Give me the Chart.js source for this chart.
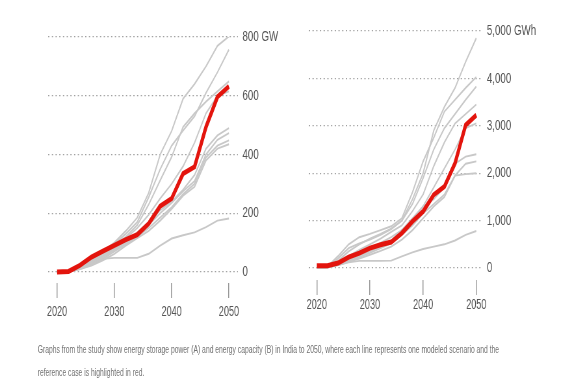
<!DOCTYPE html>
<html>
<head>
<meta charset="utf-8">
<script src="https://cdn.jsdelivr.net/npm/chart.js@4"></script>
<style>
  body { margin: 0; background: #fff; width: 564px; height: 386px; overflow: hidden; }
  /* the original figure is squeezed horizontally, so draw wide and squeeze */
  #page {
    position: relative; width: 868px; height: 386px;
    transform: scaleX(0.65); transform-origin: 0 0;
  }
  canvas { position: absolute; top: 0; }
  #chartA { left: 0; }
  #chartB { left: 434px; }
  #caption {
    position: absolute; left: 58px; top: 338px;
    font-family: "Liberation Sans", Arial, sans-serif;
    font-size: 10.4px; line-height: 23px; color: #707070; white-space: nowrap;
  }
</style>
</head>
<body>
<div id="page">
  <canvas id="chartA" width="434" height="325"></canvas>
  <canvas id="chartB" width="434" height="325"></canvas>
  <div id="caption">Graphs from the study show energy storage power (A) and energy capacity (B) in India to 2050, where each line represents one modeled scenario and the<br>reference case is highlighted in red.</div>
</div>
<script>
const years = [2020, 2022, 2024, 2026, 2028, 2030, 2032, 2034, 2036, 2038, 2040, 2042, 2044, 2046, 2048, 2050];
const yearTicks = [2020, 2030, 2040, 2050];

// (A) storage power, GW
const powerTicks = [0, 200, 400, 600, 800];
const powerRef = [0, 2, 23, 51, 71, 91, 110, 127, 165, 224, 250, 335, 358, 494, 596, 632];
const powerScenarios = [
  [0, 3, 20, 45, 70, 100, 140, 185, 270, 400, 480, 590, 640, 700, 770, 802],
  [0, 3, 18, 42, 65, 95, 130, 170, 255, 350, 430, 482, 530, 610, 680, 757],
  [0, 2, 20, 45, 68, 92, 120, 160, 230, 312, 392, 494, 540, 580, 615, 649],
  [0, 2, 18, 40, 60, 85, 115, 150, 195, 250, 300, 360, 440, 540, 600, 615],
  [0, 2, 15, 35, 55, 80, 105, 135, 170, 210, 240, 280, 330, 420, 465, 490],
  [0, 1, 12, 30, 50, 75, 100, 125, 160, 200, 235, 275, 310, 400, 450, 473],
  [0, 1, 10, 25, 45, 70, 95, 120, 150, 185, 220, 265, 300, 390, 430, 448],
  [0, 1, 10, 22, 40, 62, 90, 115, 140, 175, 215, 260, 290, 380, 420, 435],
  [0, 1, 15, 30, 45, 48, 48, 48, 62, 90, 114, 125, 135, 153, 175, 182]
];

// (B) storage capacity, GWh
const energyTicks = [0, 1000, 2000, 3000, 4000, 5000];
const energyRef = [50, 50, 105, 230, 315, 420, 490, 547, 736, 982, 1192, 1543, 1718, 2209, 3015, 3226];
const energyScenarios = [
  [0, 30, 200, 420, 520, 600, 700, 820, 1000, 1450, 2000, 2900, 3400, 3800, 4350, 4850],
  [0, 30, 250, 500, 650, 720, 800, 880, 1050, 1600, 2250, 2750, 3300, 3550, 3800, 4030],
  [0, 30, 150, 350, 500, 620, 720, 830, 1000, 1350, 1900, 2500, 2950, 3250, 3550, 3830],
  [0, 20, 120, 250, 380, 500, 620, 760, 900, 1200, 1550, 2150, 2650, 3050, 3250, 3450],
  [0, 20, 100, 200, 300, 420, 530, 650, 800, 1050, 1300, 1700, 2100, 2500, 2950, 3050],
  [0, 15, 80, 170, 260, 350, 450, 580, 800, 1000, 1300, 1450, 1700, 2200, 2350, 2400],
  [0, 15, 70, 150, 230, 320, 420, 520, 700, 900, 1150, 1350, 1550, 1950, 2200, 2250],
  [0, 10, 60, 130, 200, 280, 360, 450, 600, 800, 1050, 1300, 1500, 1950, 1980, 2000],
  [0, 10, 60, 120, 150, 150, 150, 155, 245, 330, 400, 450, 500, 580, 700, 780]
];

const fontFamily = '"Liberation Sans", Arial, sans-serif';

function toPoints(vals) {
  return years.map((yr, i) => ({ x: yr, y: vals[i] }));
}

function buildChart(id, ref, scenarios, yTicks, unit, opts) {
  // red reference case first so it is drawn on top
  const datasets = [{
    data: toPoints(ref),
    borderColor: '#e3140d',
    borderWidth: 5,
    pointRadius: 0,
    tension: 0
  }];
  scenarios.forEach(s => {
    datasets.push({
      data: toPoints(s),
      borderColor: '#c8c8c8',
      borderWidth: 1.9,
      pointRadius: 0,
      tension: 0
    });
  });

  return new Chart(document.getElementById(id), {
    type: 'line',
    data: { datasets },
    options: {
      responsive: false,
      animation: false,
      layout: { padding: opts.padding },
      plugins: { legend: { display: false }, tooltip: { enabled: false } },
      scales: {
        x: {
          type: 'linear',
          min: opts.xMin,
          max: opts.xMax,
          afterBuildTicks: s => { s.ticks = yearTicks.map(v => ({ value: v })); },
          afterFit: s => { s.height = opts.xHeight; },
          border: { display: false },
          grid: { drawOnChartArea: false, drawTicks: true, tickLength: 15, color: '#999', lineWidth: 1.5 },
          ticks: {
            padding: opts.xPad,
            color: '#555',
            font: { family: fontFamily, size: 14 },
            callback: v => String(v)
          }
        },
        y: {
          position: 'right',
          min: opts.yMin,
          max: yTicks[yTicks.length - 1],
          afterBuildTicks: s => { s.ticks = yTicks.map(v => ({ value: v })); },
          afterFit: s => { s.width = opts.yWidth; },
          border: { display: false, dash: [2, 3.7] },
          grid: { drawTicks: false, color: '#a0a0a0', lineWidth: 1.3 },
          ticks: {
            padding: 7,
            color: '#555',
            font: { family: fontFamily, size: 15 },
            callback: v => {
              const t = v.toLocaleString('en-US');
              return v === yTicks[yTicks.length - 1] ? t + ' ' + unit : t;
            }
          }
        }
      }
    }
  });
}

buildChart('chartA', powerRef, powerScenarios, powerTicks, 'GW', {
  padding: { left: 74, top: 37, right: 0, bottom: 0 },
  xMin: 2018.43, xMax: 2051.57, yMin: -37.4,
  xHeight: 42, xPad: 6, yWidth: 68
});

buildChart('chartB', energyRef, energyScenarios, energyTicks, 'GWh', {
  padding: { left: 41, top: 31, right: 0, bottom: 0 },
  xMin: 2018.49, xMax: 2051.13, yMin: -253,
  xHeight: 45, xPad: 2, yWidth: 126
});
</script>
</body>
</html>
